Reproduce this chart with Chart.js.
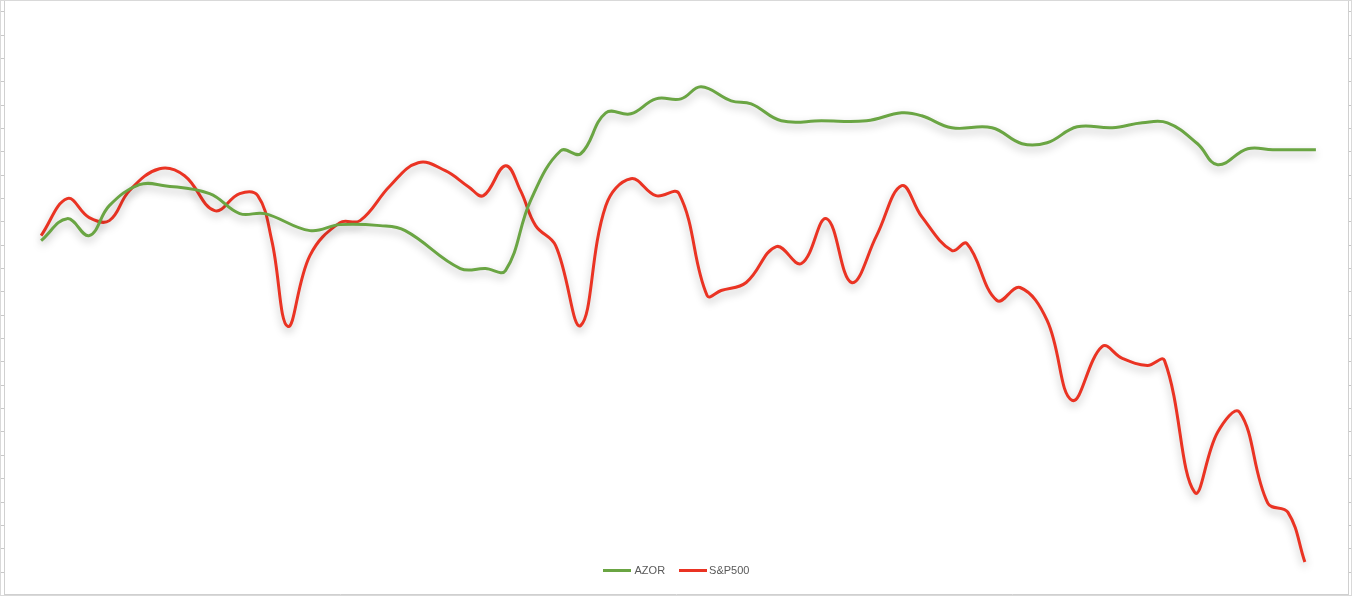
<!DOCTYPE html>
<html><head><meta charset="utf-8">
<script src="https://cdn.jsdelivr.net/npm/chart.js@4"></script>
<style>
html,body{margin:0;padding:0;background:#fff;}
#wrap{position:relative;width:1352px;height:596px;}
#legend{position:absolute;left:0;width:1352px;top:563px;text-align:center;font-family:"Liberation Sans",Arial,sans-serif;font-size:11px;color:#595959;}
#legend span{display:inline-block;vertical-align:middle;}
.sw{width:28px;height:3px;margin-right:4px;}
</style></head><body>
<div id="wrap"><canvas id="c" width="1352" height="596"></canvas>
<div id="legend"><span class="sw" style="background:#6aa543"></span><span style="margin-right:14px">AZOR</span><span class="sw" style="background:#ea3323;margin-right:2px"></span><span>S&amp;P500</span></div></div>
<script>
const sp500Days = [0,5.2,9.6,13.6,17.6,23.6,28.6,34.6,39.6,43.2,46,49.2,53.6,59.6,63.6,69.6,75.2,80.6,85.2,88.2,92.6,95.6,98.6,102.6,107.6,112.6,117.6,122.6,127.2,132.8,135.6,140.6,146.6,151.6,156.6,161.6,166.6,171.6,175.6,181.6,184.6,190.6,195.2,200.6,205.6,211.6,215.6,220.6,224,230,234.6,239,244.6,248.6,252];
const sp500Values = [36.5,40.2,38.3,38,41,43.2,42.5,39,40.7,40.5,36,27.4,34.5,37.8,38,41.5,43.8,43,41.4,40.5,43.5,41,37.5,35.5,27.5,39.5,42.2,40.5,40.7,30.5,31,31.8,35.4,33.7,38.2,31.8,36.5,41.5,38.4,35,35.7,30,31.3,28,20,25.4,24.2,23.5,24,10.8,16.8,18.8,9.7,8.8,3.8];
const azorDays = [0,5.2,9.6,13.6,19.6,24.6,33.6,39.6,44.6,53.6,59.6,67.6,72.6,83.6,88.6,92.6,97.6,103.6,107.6,112.6,117.6,122.6,127.6,131.6,137.6,141.6,147.6,155.6,164.6,171.6,175.6,181.6,189.6,195.6,200.6,206.6,213.6,219.6,224.6,230.6,234.6,240.6,245.6,254.2];
const azorValues = [36,38.2,36.5,39.5,41.6,41.5,40.7,38.7,38.7,37,37.6,37.5,37,33.2,33.2,33,40,45,44.7,48.8,48.7,50.2,50.2,51.4,50,49.7,48,48,48,48.8,48.5,47.3,47.3,45.7,45.8,47.4,47.3,47.8,47.8,45.7,43.6,45.2,45.1,45.1];
const xTickDays = [23.2,56,89.4,109.4,128.8,149,186.8,219,246.6];
const yTickValues = [];
for (let v = 2.8; v < 60; v += 2.338) yTickValues.push(v);

const pts = (d, v) => d.map((x, i) => ({x, y: v[i]}));
const shadow = {
  id: 'shadow',
  beforeDatasetsDraw(ch){ const c=ch.ctx; c.save(); c.shadowColor='rgba(0,0,0,0.28)'; c.shadowBlur=9; c.shadowOffsetY=4; },
  afterDatasetsDraw(ch){ ch.ctx.restore(); }
};
const frame = {
  id:'frame',
  afterDraw(ch){ const c=ch.ctx; c.save(); c.strokeStyle='#d9d9d9'; c.lineWidth=1; c.strokeRect(0.5,0.5,1351,595); c.restore(); }
};
const axisStyle = {grid:{drawOnChartArea:false,tickLength:4,color:'#c8c8c8'},border:{color:'#d0d0d0'},ticks:{display:false,padding:0}};
new Chart(document.getElementById('c'), {
  type:'line',
  data:{datasets:[
    {label:'AZOR',data:pts(azorDays,azorValues),borderColor:'#6aa543',borderWidth:3,pointRadius:0,tension:0.4,fill:false},
    {label:'S&P500',data:pts(sp500Days,sp500Values),borderColor:'#ea3323',borderWidth:3,pointRadius:0,tension:0.4,fill:false}
  ]},
  options:{
    responsive:false,animation:false,
    layout:{padding:{top:1,left:0,right:0,bottom:-2}},
    plugins:{legend:{display:false},tooltip:{enabled:false}},
    scales:{
      x:{type:'linear',min:-7.4,max:260.6,...axisStyle,afterBuildTicks:a=>{a.ticks=xTickDays.map(v=>({value:v}));}},
      y:{min:0.6,max:60,...axisStyle,afterBuildTicks:a=>{a.ticks=yTickValues.map(v=>({value:v}));}},
      y2:{position:'right',min:0.6,max:60,...axisStyle,afterBuildTicks:a=>{a.ticks=yTickValues.map(v=>({value:v}));}}
    }
  },
  plugins:[shadow,frame]
});
</script></body></html>
